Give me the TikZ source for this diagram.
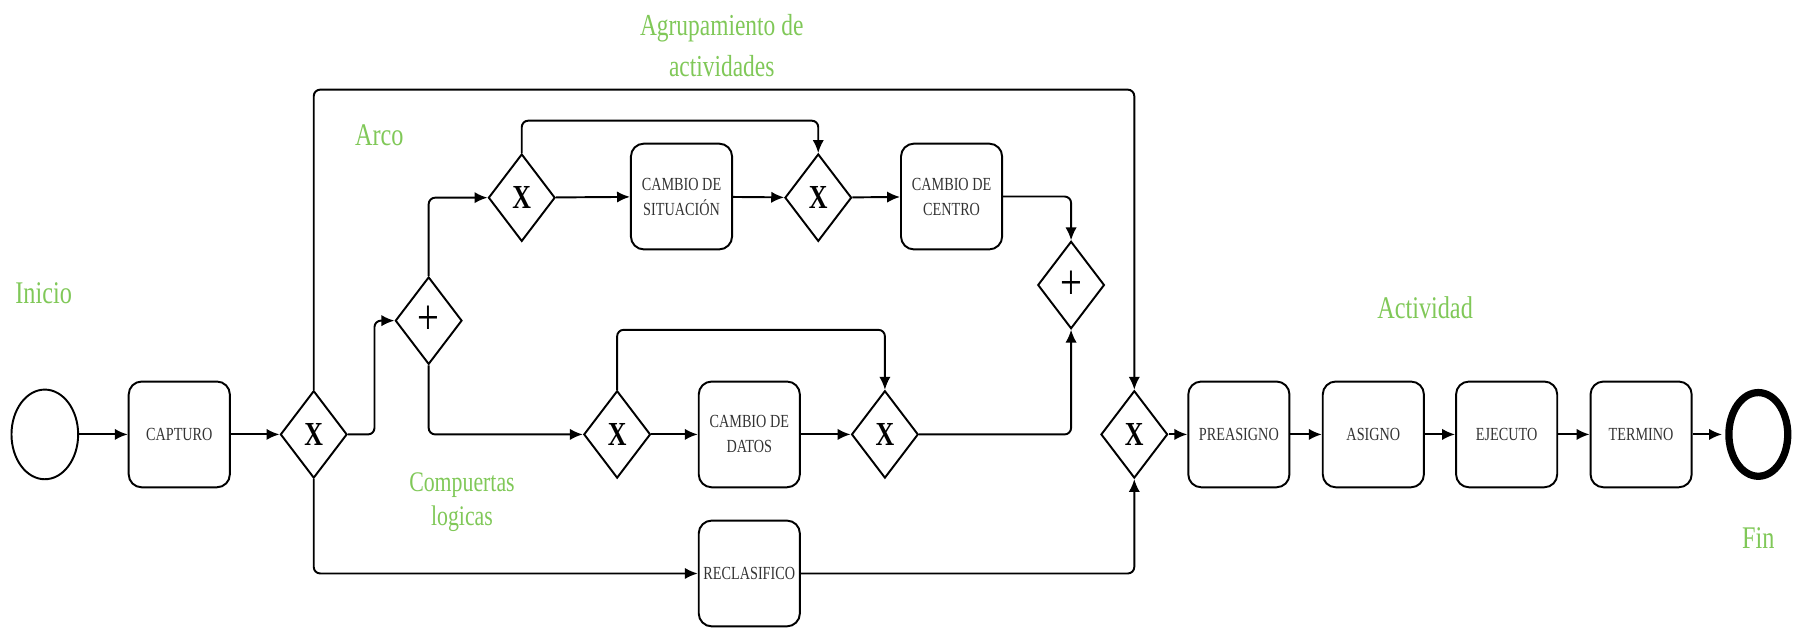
\documentclass[tikz,border=0pt]{standalone}
\usepackage{fontspec}
\setmainfont{Liberation Serif}
\usepackage{graphicx}
\usetikzlibrary{shapes.geometric,arrows.meta,calc}
\definecolor{lblgreen}{RGB}{128,200,88}
\newcommand{\vs}[1]{\scalebox{1}[1.3]{#1}}
\newcommand{\gwx}{{\fontsize{16}{16}\selectfont\bfseries\vs{X}}}
\newcommand{\gwplus}{{\fontsize{24}{24}\selectfont\vs{+}}}
\tikzset{
  conn/.style={line width=1.2pt, rounded corners=4pt},
  arr/.style={conn, -{Latex[length=8pt,width=7pt]}},
  task/.style={draw, line width=1.2pt, rectangle, rounded corners=8pt, minimum width=2.2cm, minimum height=2.3cm, align=center, inner sep=1pt, text=black!80, font=\fontsize{8.8}{15.5}\selectfont},
  gw/.style={draw, line width=1.2pt, diamond, minimum width=1.45cm, minimum height=1.9cm, inner sep=0pt},
  startev/.style={draw, line width=1.2pt, ellipse, minimum width=1.45cm, minimum height=1.95cm},
  endev/.style={draw, line width=4.5pt, ellipse, minimum width=1.28cm, minimum height=1.82cm},
  lbl/.style={text=lblgreen, align=center, font=\fontsize{15}{25}\selectfont, inner sep=0pt}
}
\begin{document}
\begin{tikzpicture}[x=0.025cm, y=-0.025cm]
\useasboundingbox (0,0) rectangle (1568,547);
% nodes
\node[startev] (start) at (39,378) {};
\node[task] (capt) at (156,378) {\vs{CAPTURO}};
\node[gw] (g1) at (273,378) {\gwx};
\node[gw] (p1) at (373,279) {\gwplus};
\node[gw] (gA) at (454,172) {\gwx};
\node[task] (sit) at (593,171) {\vs{CAMBIO DE}\\\vs{SITUACIÓN}};
\node[gw] (gB) at (712,172) {\gwx};
\node[task] (cen) at (828,171) {\vs{CAMBIO DE}\\\vs{CENTRO}};
\node[gw] (p2) at (932,248) {\gwplus};
\node[gw] (gC) at (537,378) {\gwx};
\node[task] (dat) at (652,378) {\vs{CAMBIO DE}\\\vs{DATOS}};
\node[gw] (gD) at (770,378) {\gwx};
\node[task] (rec) at (652,499) {\vs{RECLASIFICO}};
\node[gw] (gM) at (987,378) {\gwx};
\node[task] (pre) at (1078,378) {\vs{PREASIGNO}};
\node[task] (asi) at (1195,378) {\vs{ASIGNO}};
\node[task] (eje) at (1311,378) {\vs{EJECUTO}};
\node[task] (ter) at (1428,378) {\vs{TERMINO}};
\node[endev] (fin) at (1530,378) {};
% coordinates for loops
\coordinate (ytop) at (0,78);
\coordinate (yA) at (0,105);
\coordinate (yC) at (0,287);
% labels
\node[lbl] (linicio) at (38,255) {\vs{Inicio}};
\node[lbl] (larco) at (330,118) {\vs{Arco}};
\node[lbl, font=\fontsize{14.5}{25.5}\selectfont] (lagr) at (628,40) {\vs{Agrupamiento de}\\\vs{actividades}};
\node[lbl, font=\fontsize{13.5}{20.5}\selectfont] (lcomp) at (402,437) {\vs{Compuertas}\\\vs{logicas}};
\node[lbl] (lact) at (1240,268) {\vs{Actividad}};
\node[lbl] (lfin) at (1530,468) {\vs{Fin}};
% connectors
\draw[arr] (start) -- (capt);
\draw[arr] (capt) -- (g1);
\draw[arr] (g1.east) -- ++(23,0) |- (p1.west);
\draw[arr] (g1.north) -- (g1.north |- ytop) -| (gM.north);
\draw[arr] (p1.north) |- (gA.west);
\draw[arr] (gA.north) -- (gA.north |- yA) -| (gB.north);
\draw[arr] (gA) -- (sit);
\draw[arr] (sit) -- (gB);
\draw[arr] (gB) -- (cen);
\draw[arr] (cen.east) -| (p2.north);
\draw[arr] (p1.south) |- (gC.west);
\draw[arr] (gC.north) -- (gC.north |- yC) -| (gD.north);
\draw[arr] (gC) -- (dat);
\draw[arr] (dat) -- (gD);
\draw[arr] (gD.east) -| (p2.south);
\draw[arr] (g1.south) |- (rec.west);
\draw[arr] (rec.east) -| (gM.south);
\draw[arr] (gM) -- (pre);
\draw[arr] (pre) -- (asi);
\draw[arr] (asi) -- (eje);
\draw[arr] (eje) -- (ter);
\draw[arr, shorten >=2pt] (ter) -- (fin);
\end{tikzpicture}
\end{document}
